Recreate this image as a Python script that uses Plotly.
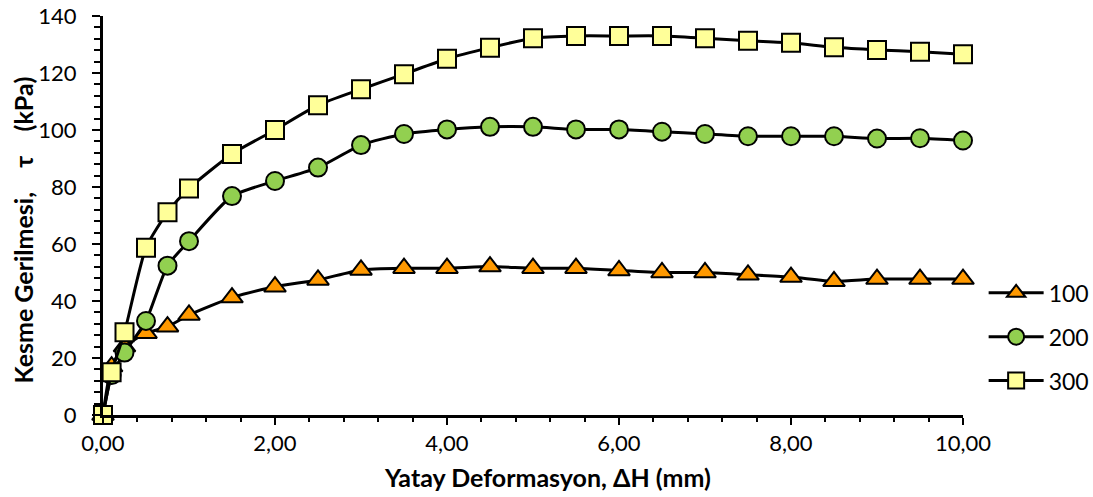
import plotly.graph_objects as go

x_vals = [0, 0.1, 0.25, 0.5, 0.75, 1.0, 1.5, 2.0, 2.5, 3.0, 3.5, 4.0, 4.5, 5.0,
          5.5, 6.0, 6.5, 7.0, 7.5, 8.0, 8.5, 9.0, 9.5, 10.0]

tau_100 = [0, 17, 24, 28.7, 31.0, 35.1, 41.2, 45.0, 47.4, 50.9, 51.5, 51.5, 52.1, 51.5,
           51.5, 50.7, 50.0, 50.0, 49.2, 48.4, 46.9, 47.7, 47.7, 47.7]
tau_200 = [0, 14, 21.9, 33.0, 52.4, 61.0, 76.8, 82.1, 86.8, 94.7, 98.6, 100.2, 101.1, 101.1,
           100.2, 100.2, 99.4, 98.6, 97.8, 97.8, 97.8, 97.0, 97.1, 96.3]
tau_300 = [0, 15, 29.0, 58.7, 71.1, 79.5, 91.6, 100.0, 108.7, 114.3, 119.6, 125.0, 128.9, 132.2,
           133.0, 133.0, 133.0, 132.2, 131.3, 130.6, 129.0, 128.1, 127.5, 126.6]

series_names = ["100", "200", "300"]
x_tick_vals = [0, 2, 4, 6, 8, 10]
x_tick_text = ["0,00", "2,00", "4,00", "6,00", "8,00", "10,00"]
y_tick_vals = [0, 20, 40, 60, 80, 100, 120, 140]

x_title = "<b>Yatay Deformasyon, ΔH (mm)</b>"
NB = "\u00a0"
y_title = "<b>Kesme Gerilmesi," + NB * 4 + "τ" + NB * 4 + "(kPa)</b>"

FONT = "Lato, Open Sans, sans-serif"

styles = [
    dict(symbol="triangle-up", color="#FF9900", size=19),
    dict(symbol="circle", color="#92D050", size=18),
    dict(symbol="square", color="#FFFF99", size=18),
]

fig = go.Figure()
for i, (name, ys) in enumerate(zip(series_names, [tau_100, tau_200, tau_300])):
    st = styles[i]
    fig.add_trace(go.Scatter(
        x=x_vals, y=ys, name=name, mode="lines+markers",
        legendgroup=name,
        line=dict(color="black", width=3, shape="spline", smoothing=0.6),
        marker=dict(symbol=st["symbol"], size=st["size"], color=st["color"],
                    line=dict(color="black", width=2)),
        cliponaxis=False,
    ))

fig.update_layout(
    width=1093, height=497,
    margin=dict(l=103, r=130, t=16, b=82, autoexpand=False),
    paper_bgcolor="white", plot_bgcolor="white",
    font=dict(family=FONT, size=22, color="black"),
    showlegend=True,
    legend=dict(x=1.024, y=0.36, xanchor="left", yanchor="top",
                itemwidth=55, tracegroupgap=11,
                font=dict(family=FONT, size=23, color="black"),
                bgcolor="rgba(0,0,0,0)"),
    annotations=[
        dict(text=x_title, xref="paper", yref="paper", x=0.5163, y=-0.1554,
             xanchor="center", yanchor="middle", showarrow=False,
             font=dict(family=FONT, size=25, color="black")),
        dict(text=y_title, xref="paper", yref="paper", x=-0.0935, y=0.4637,
             xanchor="center", yanchor="middle", showarrow=False, textangle=-90,
             font=dict(family=FONT, size=25, color="black")),
    ],
)

fig.update_xaxes(
    range=[0, 10], tickvals=x_tick_vals, ticktext=x_tick_text,
    showgrid=False, zeroline=False, automargin=False,
    showline=True, linecolor="black", linewidth=3,
    ticks="outside", ticklen=7, tickwidth=2, tickcolor="black",
    minor=dict(dtick=0.4, ticks="outside", ticklen=4, tickwidth=2, tickcolor="black"),
    tickfont=dict(family=FONT, size=22),
)
fig.update_yaxes(
    range=[0, 140], tickvals=y_tick_vals,
    showgrid=False, zeroline=False, automargin=False,
    showline=True, linecolor="black", linewidth=3,
    ticks="outside", ticklen=8, tickwidth=2, tickcolor="black",
    ticklabelstandoff=11,
    minor=dict(dtick=4, ticks="outside", ticklen=6, tickwidth=2, tickcolor="black"),
    tickfont=dict(family=FONT, size=22),
)

fig.write_html("out.html", config={"displayModeBar": False},
               post_script="document.body.style.margin='0px';")
